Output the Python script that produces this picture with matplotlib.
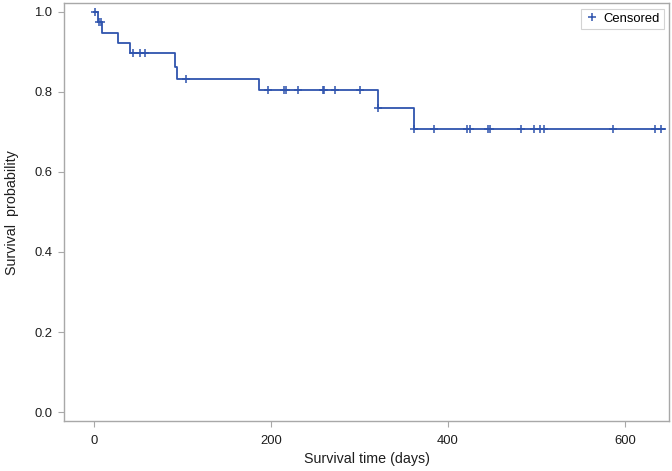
import numpy as np
import matplotlib
matplotlib.use("Agg")
import matplotlib.pyplot as plt
from matplotlib.lines import Line2D

# Kaplan-Meier step levels
event_t = [0, 5, 9, 27, 41, 92, 94, 186, 321, 362]
event_s = [1.0, 0.974, 0.948, 0.922, 0.896, 0.863, 0.832, 0.804, 0.759, 0.707]
t_end = 645

censor_t = [1, 6, 8, 44, 52, 58, 104, 197, 215, 217, 231, 259, 260, 272, 301,
            321, 362, 384, 421, 425, 445, 447, 482, 497, 504, 509, 587, 634, 641]

xticks = [0, 200, 400, 600]
yticks = [0.0, 0.2, 0.4, 0.6, 0.8, 1.0]

plt.rcParams["font.family"] = ["Liberation Sans", "DejaVu Sans"]

BLUE = "#2f54ae"
GREY = "#a8a8a8"
TXT = "#1e1e1e"

fig = plt.figure(figsize=(6.72, 4.71), dpi=100)
ax = fig.add_axes([0.0952, 0.1055, 0.9007, 0.8875])

xs = list(event_t) + [t_end]
ys = list(event_s) + [event_s[-1]]
ax.step(xs, ys, where="post", color=BLUE, lw=1.3)

idx = np.searchsorted(event_t, censor_t, side="right") - 1
cs = np.array(event_s)[idx]
ax.plot(censor_t, cs, ls="none", marker="+", ms=6.3, mew=1.1, color=BLUE)

ax.set_xlim(-34, 650)
ax.set_ylim(-0.023, 1.021)
ax.set_xticks(xticks)
ax.set_yticks(yticks)
ax.set_yticklabels([f"{v:.1f}" for v in yticks])
ax.tick_params(direction="out", length=4.5, width=0.8, color=GREY,
               labelsize=9.4, labelcolor=TXT, pad=4)
ax.tick_params(axis="x", pad=5)
for sp in ax.spines.values():
    sp.set_color(GREY)
    sp.set_linewidth(1.0)

ax.set_xlabel("Survival time (days)", fontsize=10.25, color=TXT, labelpad=4)
ax.set_ylabel("Survival  probability", fontsize=10.25, color=TXT, labelpad=11)

handle = Line2D([], [], ls="none", marker="+", ms=6.3, mew=1.1, color=BLUE)
leg = ax.legend([handle], ["Censored"], loc="upper right", fontsize=9.4,
                frameon=True, fancybox=False, borderpad=0.3, handletextpad=0.4,
                handlelength=1.0, borderaxespad=0.42)
leg.get_frame().set_edgecolor("#c8c8c8")
leg.get_frame().set_linewidth(0.8)

fig.savefig("out.png", dpi=100)
